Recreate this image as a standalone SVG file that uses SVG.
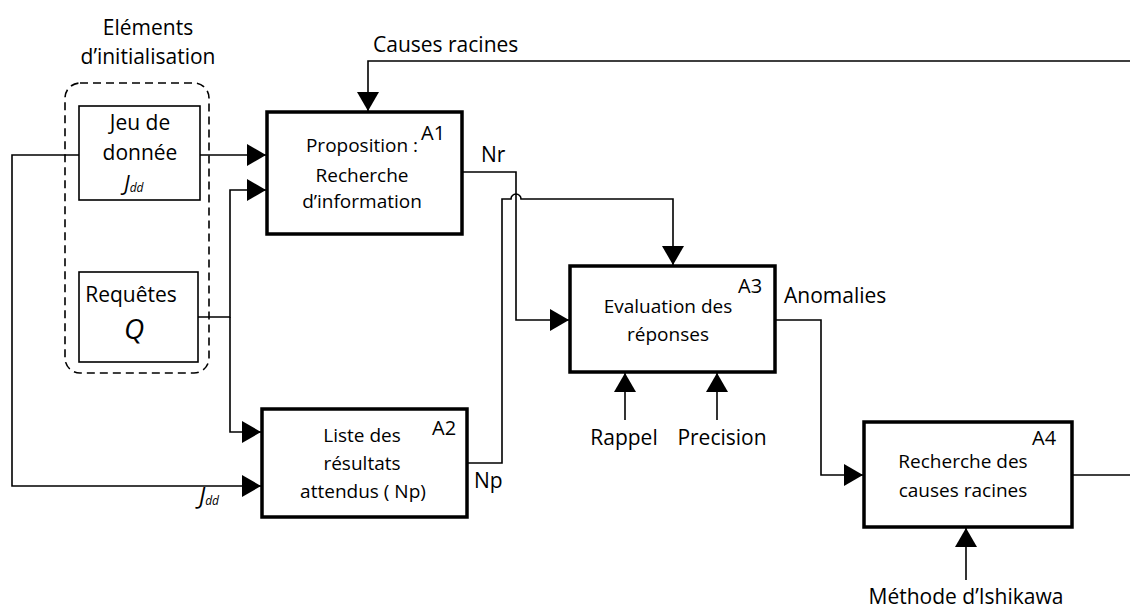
<svg xmlns="http://www.w3.org/2000/svg" width="1130" height="608" viewBox="0 0 1130 608">
<style>
text{font-family:"Open Sans","Noto Sans","Liberation Sans",sans-serif;fill:#000}
.bx{font-size:19px;text-anchor:middle}
.ib{font-size:21px;text-anchor:middle}
.lb{font-size:21px}
.id{font-size:20px}
.proc{fill:#fff;stroke:#000;stroke-width:3.5}
.init{fill:#fff;stroke:#000;stroke-width:1.6}
.c{fill:none;stroke:#000;stroke-width:1.6}
.it{font-style:italic}
</style>
<defs>
<marker id="ah" markerUnits="userSpaceOnUse" markerWidth="20" markerHeight="22" viewBox="0 0 20 22" refX="19" refY="11" orient="auto">
<path d="M0,0 L19,11 L0,22 Z" fill="#000"/>
</marker>
</defs>
<g id="connectors">
<path class="c" d="M200,155 H266" marker-end="url(#ah)"/>
<path class="c" d="M79,155 H12 V486 H261" marker-end="url(#ah)"/>
<path class="c" d="M198,317 H230 V190 H266" marker-end="url(#ah)"/>
<path class="c" d="M230,317 V432 H261" marker-end="url(#ah)"/>
<path class="c" d="M1130,61 H368 V111" marker-end="url(#ah)"/>
<path class="c" d="M462,172 H516 V320 H569" marker-end="url(#ah)"/>
<path class="c" d="M467,463 H502 V199 H511 A5,5 0 0 1 521,199 H673 V265" marker-end="url(#ah)"/>
<path class="c" d="M775,320 H821 V475 H863" marker-end="url(#ah)"/>
<path class="c" d="M1072,475 H1130"/>
<path class="c" d="M625,420 V373" marker-end="url(#ah)"/>
<path class="c" d="M717,420 V373" marker-end="url(#ah)"/>
<path class="c" d="M966,580 V528" marker-end="url(#ah)"/>
</g>
<g id="init-group">
<rect x="65" y="83" width="144" height="290" rx="15" fill="none" stroke="#000" stroke-width="1.6" stroke-dasharray="8,5"/>
<text class="ib" x="148" y="35">Eléments</text>
<text class="ib" x="148" y="64">d’initialisation</text>
</g>
<g id="jeu">
<rect class="init" x="79" y="106" width="121" height="94"/>
<text class="ib" x="140" y="130">Jeu de</text>
<text class="ib" x="140" y="160">donnée</text>
<text x="124" y="191" font-size="21" class="it">J<tspan font-size="12" dy="1">dd</tspan></text>
</g>
<g id="requetes">
<rect class="init" x="79" y="272" width="119" height="90"/>
<text class="ib" x="131" y="302">Requêtes</text>
<text x="134" y="339" font-size="28" class="it" text-anchor="middle">Q</text>
</g>
<g id="A1">
<rect class="proc" x="267" y="112" width="195" height="122"/>
<text class="bx" x="362" y="152">Proposition :</text>
<text class="bx" x="362" y="182">Recherche</text>
<text class="bx" x="362" y="208">d’information</text>
<text class="id" x="421" y="140">A1</text>
</g>
<g id="A2">
<rect class="proc" x="262" y="409" width="205" height="108"/>
<text class="bx" x="362" y="442">Liste des</text>
<text class="bx" x="362" y="470">résultats</text>
<text class="bx" x="363" y="498">attendus ( Np)</text>
<text class="id" x="432" y="435">A2</text>
</g>
<g id="A3">
<rect class="proc" x="570" y="266" width="205" height="106"/>
<text class="bx" x="668" y="313">Evaluation des</text>
<text class="bx" x="668" y="341">réponses</text>
<text class="id" x="738" y="293">A3</text>
</g>
<g id="A4">
<rect class="proc" x="864" y="422" width="208" height="105"/>
<text class="bx" x="963" y="468">Recherche des</text>
<text class="bx" x="963" y="497">causes racines</text>
<text class="id" x="1032" y="445">A4</text>
</g>
<g id="labels">
<text class="lb" x="373" y="52">Causes racines</text>
<text class="lb" x="481" y="162">Nr</text>
<text class="lb" x="474" y="488">Np</text>
<text x="199" y="504" font-size="23" class="it">J<tspan font-size="12" dy="1">dd</tspan></text>
<text class="lb" x="784" y="303">Anomalies</text>
<text class="lb" x="624" y="445" text-anchor="middle">Rappel</text>
<text class="lb" x="722" y="445" text-anchor="middle">Precision</text>
<text class="lb" x="966" y="604" text-anchor="middle">Méthode d’Ishikawa</text>
</g>
</svg>
